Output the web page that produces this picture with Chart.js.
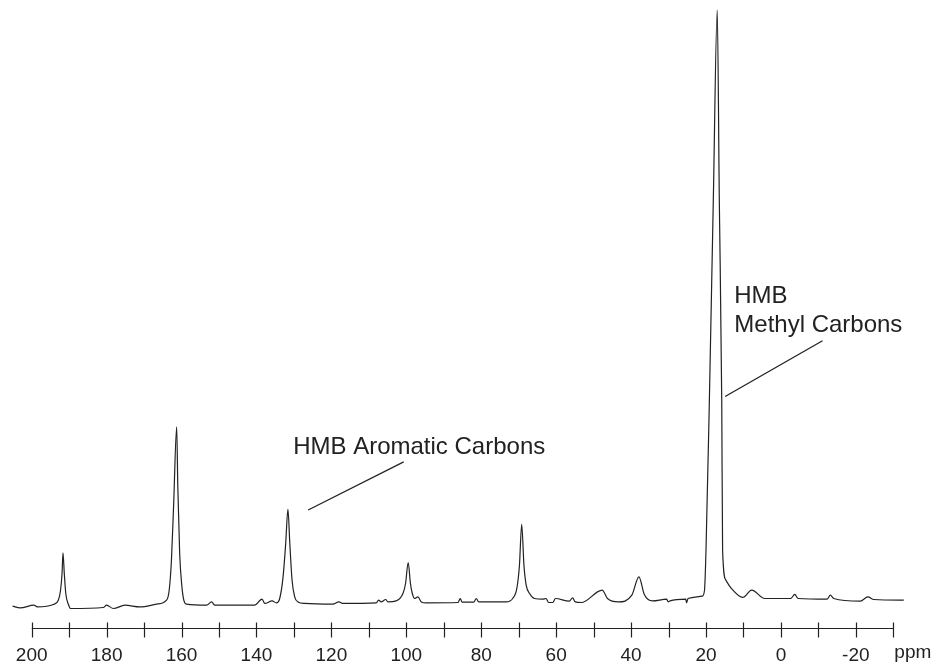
<!DOCTYPE html>
<html>
<head>
  <meta charset="UTF-8">
  <title>HMB 13C spectrum</title>
  <script src="https://cdn.jsdelivr.net/npm/chart.js"></script>
  <style>
    body { margin: 0; background: #fff; }
    #wrap { width: 938px; height: 671px; }
  </style>
</head>
<body>
<div id="wrap"><canvas id="nmrChart"></canvas></div>

<script>
  // chemical shift (ppm) and intensity, left to right
  const shifts = [205.1, 203.1, 199.4, 198.5, 194.2, 192.9, 192.3, 191.9, 191.65, 191.3, 190.9, 190.2, 189.6,
    180.9, 180.0, 178.2, 175.1, 171.1,
    166.7, 164.0, 163.3, 162.7, 162.1, 161.3, 161.0, 160.5, 159.9, 159.4, 158.7,
    153.3, 152.0, 151.1,
    140.5, 138.5, 137.8, 135.8, 134.7, 133.8, 132.9, 132.2, 131.6, 131.1, 130.5, 129.8, 128.9, 127.1,
    119.6, 118.0, 116.9,
    108.0, 107.4, 106.7, 105.5, 104.9, 102.7, 100.9, 100.2, 99.5, 98.9, 98.4, 97.8, 96.9, 96.0, 94.7,
    86.2, 85.6, 85.1, 82.0, 81.3, 80.7, 73.3,
    71.6, 70.5, 69.8, 69.2, 68.6, 68.0, 67.1, 65.8, 63.6, 62.7, 62.0, 60.9, 60.2, 56.5, 55.6, 54.9, 53.3,
    47.7, 46.3, 43.4, 39.8, 37.9, 36.5, 34.3, 30.5, 30.1, 29.6, 25.4, 25.2, 24.8,
    21.0, 20.4, 20.0, 19.1, 18.05, 17.0, 16.45, 15.8, 15.57, 14.7, 13.3, 10.2, 7.8,
    4.3, -2.6, -3.7, -4.6, -12.3, -13.2, -14.1, -21.2, -23.2, -24.8, -32.8];

  const intensity = [0.67, 0.38, 0.83, 0.55, 0.95, 1.67, 3.33, 6.12, 9.55, 6.12, 2.78, 0.95, 0.28,
    0.45, 0.83, 0.28, 0.83, 0.55,
    1.0, 1.67, 3.33, 8.33, 17.8, 30.55, 20.55, 9.45, 3.88, 1.67, 1.0,
    0.83, 1.38, 0.83,
    0.83, 1.83, 1.12, 1.55, 1.22, 1.95, 5.55, 11.1, 16.8, 11.1, 5.0, 2.22, 1.38, 1.12,
    1.0, 1.38, 1.12,
    1.22, 1.67, 1.38, 1.78, 1.38, 1.55, 2.78, 4.45, 7.95, 4.45, 2.78, 1.95, 2.22, 1.38, 1.22,
    1.28, 1.95, 1.33, 1.33, 1.95, 1.38, 1.38,
    1.95, 3.62, 7.5, 14.3, 7.5, 4.17, 2.78, 1.95, 1.83, 1.95, 1.28, 1.28, 1.95, 1.5, 2.05, 1.38, 1.28,
    3.33, 1.95, 1.38, 2.5, 5.55, 2.67, 1.55, 1.83, 1.38, 1.55, 1.83, 1.22, 1.95,
    2.33, 3.33, 10, 35, 68.3, 100, 68.3, 35, 10, 5, 3.67, 2.12, 3.33,
    1.95, 1.95, 2.62, 1.95, 1.83, 2.5, 1.95, 1.5, 2.22, 1.78, 1.67];

  const tickValues = [200, 190, 180, 170, 160, 150, 140, 130, 120, 110, 100, 90, 80, 70, 60, 50, 40, 30, 20, 10, 0, -10, -20, -30];
  const tickLabels = ['200', '', '180', '', '160', '', '140', '', '120', '', '100', '', '80', '', '60', '', '40', '', '20', '', '0', '', '-20', ''];

  // labels and leader lines, in ppm / intensity units
  const labelText = ['HMB Aromatic Carbons', 'HMB', 'Methyl Carbons'];
  const labelShift = [130.2, 12.45, 12.45];
  const labelLevel = [26, 51.2, 46.4];
  const leaderFrom = [[126.2, 16.7], [14.9, 35.6]];
  const leaderTo = [[100.7, 24.7], [-11.1, 44.9]];

  const axisLevel = -3;
  const FONT = '"Liberation Sans", Arial, Helvetica, sans-serif';
  const INK = '#222';

  const spectrumDecor = {
    id: 'spectrumDecor',
    afterDraw(chart) {
      const ctx = chart.ctx;
      const x = chart.scales.x;
      const y = chart.scales.y;
      const ay = Math.round(y.getPixelForValue(axisLevel)) + 0.5;

      ctx.save();
      ctx.strokeStyle = INK;
      ctx.lineWidth = 1.2;
      ctx.beginPath();
      ctx.moveTo(x.getPixelForValue(tickValues[0]), ay);
      ctx.lineTo(x.getPixelForValue(tickValues[tickValues.length - 1]), ay);
      tickValues.forEach(v => {
        const px = Math.round(x.getPixelForValue(v)) + 0.5;
        ctx.moveTo(px, ay - 6);
        ctx.lineTo(px, ay + 9);
      });
      ctx.stroke();

      // unit label after the last tick
      ctx.fillStyle = INK;
      ctx.font = '19px ' + FONT;
      ctx.textBaseline = 'alphabetic';
      ctx.textAlign = 'left';
      ctx.fillText('ppm', x.getPixelForValue(tickValues[tickValues.length - 1]) + 1, ay + 29);

      // peak labels
      ctx.font = '24px ' + FONT;
      labelText.forEach((t, i) => {
        ctx.fillText(t, x.getPixelForValue(labelShift[i]), y.getPixelForValue(labelLevel[i]));
      });

      ctx.lineWidth = 1.3;
      ctx.beginPath();
      leaderFrom.forEach((p, i) => {
        ctx.moveTo(x.getPixelForValue(p[0]), y.getPixelForValue(p[1]));
        ctx.lineTo(x.getPixelForValue(leaderTo[i][0]), y.getPixelForValue(leaderTo[i][1]));
      });
      ctx.stroke();
      ctx.restore();
    }
  };

  new Chart(document.getElementById('nmrChart'), {
    type: 'line',
    data: {
      datasets: [{
        data: shifts.map((s, i) => ({x: s, y: intensity[i]})),
        borderColor: INK,
        borderWidth: 1.2,
        pointRadius: 0,
        fill: false,
        cubicInterpolationMode: 'monotone',
        clip: false
      }]
    },
    options: {
      responsive: true,
      maintainAspectRatio: false,
      animation: false,
      layout: {padding: {left: 12.6, right: 34.2, top: 10, bottom: 0}},
      plugins: {legend: {display: false}, tooltip: {enabled: false}},
      scales: {
        x: {
          type: 'linear',
          reverse: true,
          min: -32.8,
          max: 205.1,
          afterBuildTicks: s => { s.ticks = tickValues.map(v => ({value: v})); },
          ticks: {
            callback: (v, i) => tickLabels[i],
            autoSkip: false,
            maxRotation: 0,
            padding: 4,
            color: INK,
            font: {size: 19, family: FONT}
          },
          grid: {display: false, drawTicks: false},
          border: {display: false}
        },
        y: {display: false, min: -5, max: 100}
      }
    },
    plugins: [spectrumDecor]
  });
</script>
</body>
</html>
